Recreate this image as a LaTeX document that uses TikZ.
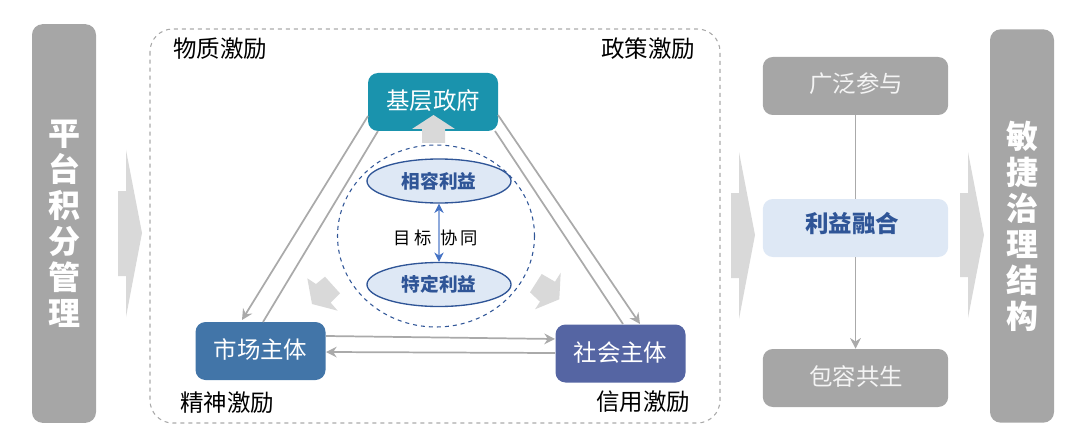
\documentclass[tikz,border=0pt]{standalone}
\usepackage{fontspec}
\setmainfont{Noto Sans CJK SC}
\usetikzlibrary{arrows.meta, shapes.geometric}
\definecolor{barGray}{HTML}{A6A6A6}
\definecolor{arrowGray}{HTML}{D9D9D9}
\definecolor{lineGray}{HTML}{AAAAAA}
\definecolor{paleBlue}{HTML}{DEE8F5}
\definecolor{darkBlue}{HTML}{2F5597}
\definecolor{tipBlue}{HTML}{4472C4}
\definecolor{shaftBlue}{HTML}{8FAADC}
\definecolor{govTeal}{HTML}{1A93AD}
\definecolor{marketBlue}{HTML}{4275A8}
\definecolor{socialBlue}{HTML}{5565A3}
\tikzset{
  actor/.style={draw=none, rounded corners=7.5pt, text=white, minimum width=97.5pt, minimum height=43.5pt, font=\fontsize{17.6}{20}\selectfont},
  stage/.style={draw=none, fill=barGray, rounded corners=7.5pt, minimum width=139pt, minimum height=43.5pt},
  stagetext/.style={inner sep=0pt, text=white!88!barGray, font=\fontsize{17.6}{20}\selectfont},
  interest/.style={ellipse, draw=darkBlue, line width=1pt, fill=paleBlue, text=darkBlue, minimum width=108pt, minimum height=33pt, inner sep=0pt, font=\bfseries\fontsize{14}{16}\selectfont},
  bar/.style={draw=none, fill=barGray, rounded corners=8pt, text=white, minimum width=48pt, align=center, font=\bfseries\fontsize{24}{27}\selectfont},
  incentive/.style={inner sep=0pt, font=\fontsize{17.6}{20}\selectfont},
  link/.style={draw=lineGray, line width=1.3pt, -{Stealth[length=8pt,width=8pt]}},
  plainlink/.style={draw=lineGray, line width=1.3pt},
  bigarrow/.style={draw=none, fill=arrowGray},
}
\begin{document}
\begin{tikzpicture}[x=0.75pt, y=-0.75pt]
  \useasboundingbox (0,0) rectangle (1080,442);
  % Frame:
  \draw[lineGray, dashed, line width=0.8pt, rounded corners=17pt] (150,29) rectangle (720,423);

  % Side bars:
  \node[bar, minimum height=299pt] (platform) at (64,223.5) {平\\台\\积\\分\\管\\理};
  \node[bar, minimum height=295pt] (agile) at (1022,226) {敏\\捷\\治\\理\\结\\构};

  % Big arrows:
  \fill[bigarrow] (118,191) -- (126,191) -- (126,150) -- (142,233) -- (126,317) -- (126,276) -- (118,276) -- cycle;
  \fill[bigarrow] (731,193) -- (739,193) -- (739,152) -- (755,235) -- (739,319) -- (739,278) -- (731,278) -- cycle;
  \fill[bigarrow] (960,193) -- (968,193) -- (968,152) -- (984,235) -- (968,318) -- (968,277) -- (960,277) -- cycle;

  % Actors:
  \node[actor, fill=govTeal] (gov) at (433,102) {\raisebox{3.5pt}{基层政府}};
  \node[actor, fill=marketBlue] (market) at (260.5,351) {\raisebox{3.5pt}{市场主体}};
  \node[actor, fill=socialBlue] (social) at (620.5,353.5) {\raisebox{3.5pt}{社会主体}};

  % Incentives:
  \node[incentive] (material) at (220,48.5) {物质激励};
  \node[incentive] (policy) at (648,48.5) {政策激励};
  \node[incentive] (spirit) at (227,402.5) {精神激励};
  \node[incentive] (credit) at (643,402) {信用激励};

  % Links:
  \coordinate (govA) at (368,116);
  \coordinate (govB) at (378,131);
  \coordinate (govC) at (498,115);
  \coordinate (govD) at (495,131);
  \coordinate (marketA) at (242,320);
  \coordinate (marketB) at (263,322);
  \coordinate (socialA) at (640,324);
  \coordinate (socialB) at (623,324);
  \draw[link] (govA) -- (marketA);
  \draw[plainlink] (marketB) -- (govB);
  \draw[link] (govC) -- (socialA);
  \draw[plainlink] (socialB) -- (govD);
  \coordinate (marketC) at (326,336);
  \coordinate (socialC) at (555,339);
  \coordinate (socialD) at (555,353);
  \coordinate (marketD) at (326,352);
  \draw[link] (marketC) -- (socialC);
  \draw[link] (socialD) -- (marketD);

  % Centre:
  \fill[bigarrow] (422,143) -- (422,129) -- (412,129) -- (433.5,115) -- (455,129) -- (445,129) -- (445,143) -- cycle;
  \fill[bigarrow] (307.3,278.3) -- (316,284) -- (325,276.7) -- (340,293.3) -- (330.7,302.7) -- (337.7,310.7) -- (312,304) -- cycle;
  \fill[bigarrow] (560.7,272.7) -- (555,281.7) -- (541.7,274) -- (530,292.3) -- (540,301.7) -- (535,309.3) -- (559.3,299.3) -- cycle;
  \draw[darkBlue, dashed, line width=0.8pt] (436,236) ellipse [x radius=98.5, y radius=91];
  \node[interest] (compatible) at (439,181) {相容利益};
  \node[interest] (specific) at (439,284.5) {特定利益};
  \draw[{Stealth[length=7pt,width=7pt,color=tipBlue]}-{Stealth[length=7pt,width=7pt,color=tipBlue]}, color=shaftBlue, line width=0.8pt] (compatible) -- (specific);
  \node[inner sep=1pt, font=\fontsize{13}{15}\selectfont] (synergy) at (436,237.5) {目\hspace{3pt}标\hspace{6.5pt}协\hspace{2pt}同};

  % Stages:
  \node[stage] (join) at (855.5,86) {};
  \node[stagetext] (joinlabel) at (856,84) {广泛参与};
  \node[stage, fill=paleBlue] (merge) at (855.5,228) {};
  \node[stagetext, text=darkBlue, font=\bfseries\fontsize{17.6}{20}\selectfont] (mergelabel) at (852,223.5) {利益融合};
  \node[stage] (coexist) at (855.5,378) {};
  \node[stagetext] (coexistlabel) at (856,376.5) {包容共生};
  \draw[plainlink] (join) -- (merge);
  \draw[link] (merge) -- (coexist);
\end{tikzpicture}
\end{document}
